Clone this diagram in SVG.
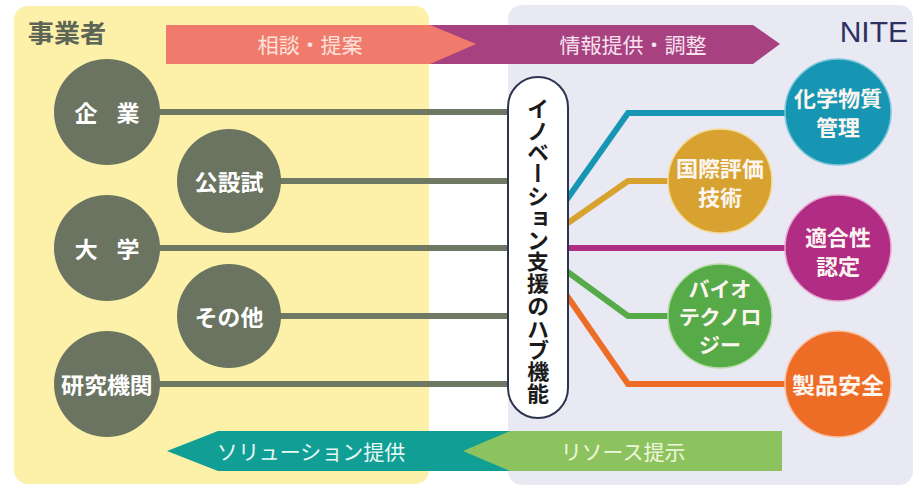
<svg xmlns="http://www.w3.org/2000/svg" width="920" height="488" viewBox="0 0 920 488">
<style>
text{font-family:"Noto Sans JP","Noto Sans CJK JP","Liberation Sans",sans-serif;font-weight:bold;}
.ct{fill:#ffffff;font-size:23px;text-anchor:middle;dominant-baseline:central;}
.ctr{fill:#fdf6f0;font-size:22px;text-anchor:middle;dominant-baseline:central;}
.sm{font-size:21px;}
.lg{font-size:23px;}
.ln{stroke:#6e7862;stroke-width:6;fill:none;}
.rl{stroke-width:6;fill:none;stroke-linejoin:miter;}
.dk{fill:#6a7461;}
.at{font-size:21px;text-anchor:middle;dominant-baseline:central;font-weight:normal;}
</style>
<rect x="0" y="0" width="920" height="488" fill="#ffffff"/>
<rect x="14" y="6" width="415" height="478" rx="14" fill="#fdf0a9"/>
<rect x="508" y="5" width="405" height="480" rx="14" fill="#e9e9f3"/>
<text x="28" y="31" font-size="26" fill="#5d6656" dominant-baseline="central">事業者</text>
<text x="908" y="42" font-size="30" fill="#2b3160" text-anchor="end" style="font-family:'Liberation Sans',sans-serif;font-weight:normal">NITE</text>

<g id="arrow-top">
<polygon points="430,25 753,25 780,44 753,64 430,64" fill="#a7417f"/>
<polygon points="166,25 430,25 476,44 430,64 166,64" fill="#f07b6c"/>
<text class="at" x="310" y="44" fill="#fde3dc">相談・提案</text>
<text class="at" x="633" y="44" fill="#f8e2f0">情報提供・調整</text>
</g>
<g id="arrow-bottom">
<polygon points="218,431 520,431 520,471 218,471 167,451" fill="#119e94"/>
<polygon points="782,431 510,431 463,451 510,471 782,471" fill="#8dc35f"/>
<text class="at" x="311" y="451" fill="#e6f8f4">ソリューション提供</text>
<text class="at" x="623" y="451" fill="#eef7dc">リソース提示</text>
</g>

<g id="connectors">
<line class="ln" x1="107" y1="112" x2="512" y2="112"/>
<line class="ln" x1="229" y1="181" x2="512" y2="181"/>
<line class="ln" x1="107" y1="248" x2="512" y2="248"/>
<line class="ln" x1="229" y1="316" x2="512" y2="316"/>
<line class="ln" x1="107" y1="384" x2="512" y2="384"/>
<polyline class="rl" stroke="#1796b3" points="565,202 628,113 838,113"/>
<polyline class="rl" stroke="#d7a230" points="565,225 628,181 720,181"/>
<polyline class="rl" stroke="#b12c83" points="565,248 838,248"/>
<polyline class="rl" stroke="#56aa48" points="565,270 628,316 720,316"/>
<polyline class="rl" stroke="#ed6c26" points="565,293 628,384 838,384"/>
</g>

<g id="n-kigyo"><circle class="dk" cx="107" cy="112" r="53"/><text class="ct" x="107" y="112" word-spacing="14">企 業</text></g>
<g id="n-kosetsushi"><circle class="dk" cx="229" cy="181" r="52"/><text class="ct" x="229" y="181">公設試</text></g>
<g id="n-daigaku"><circle class="dk" cx="107" cy="248" r="53"/><text class="ct" x="107" y="248" word-spacing="14">大 学</text></g>
<g id="n-sonota"><circle class="dk" cx="229" cy="316" r="52"/><text class="ct" x="229" y="316">その他</text></g>
<g id="n-kenkyu"><circle class="dk" cx="107" cy="384" r="53"/><text class="ct" x="107" y="384">研究機関</text></g>

<g id="hub">
<rect x="508" y="77" width="60" height="341" rx="30" fill="#ffffff" stroke="#2d3450" stroke-width="2"/>
<text x="538" y="250" font-size="22" fill="#1a1a1a" writing-mode="vertical-rl" text-anchor="middle">イノベーション支援のハブ機能</text>
</g>

<g id="n-kagaku"><circle cx="838" cy="112" r="53" fill="#1796b3" stroke="#7cc8da" stroke-width="1.5"/><text class="ctr" x="838" y="97">化学物質</text><text class="ctr" x="838" y="126">管理</text></g>
<g id="n-kokusai"><circle cx="720" cy="181" r="52" fill="#d7a230" stroke="#f3dc9a" stroke-width="1.5"/><text class="ctr" x="720" y="167">国際評価</text><text class="ctr" x="720" y="196">技術</text></g>
<g id="n-tekigo"><circle cx="838" cy="248" r="53" fill="#b12c83" stroke="#e7a6cf" stroke-width="1.5"/><text class="ctr" x="838" y="236">適合性</text><text class="ctr" x="838" y="265">認定</text></g>
<g id="n-bio"><circle cx="720" cy="316" r="52" fill="#56aa48" stroke="#b5dca6" stroke-width="1.5"/><text class="ctr sm" x="720" y="288">バイオ</text><text class="ctr sm" x="720" y="316">テクノロ</text><text class="ctr sm" x="720" y="344">ジー</text></g>
<g id="n-seihin"><circle cx="838" cy="384" r="53" fill="#ed6c26" stroke="#f8bf9e" stroke-width="1.5"/><text class="ctr lg" x="838" y="384">製品安全</text></g>
</svg>
